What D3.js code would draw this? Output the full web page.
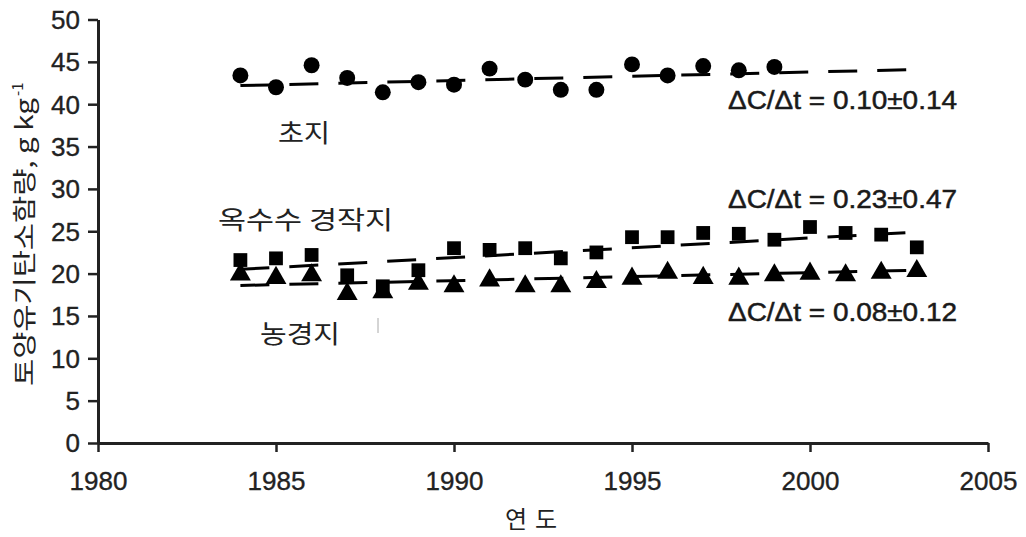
<!DOCTYPE html>
<html><head><meta charset="utf-8">
<script src="https://cdn.jsdelivr.net/npm/d3@7"></script>
<style>
body{margin:0;background:#fff}
svg{display:block}
.tick text{font-family:"Liberation Sans",Arial,sans-serif;font-size:26px;fill:#222;stroke:#222;stroke-width:0.35px}
.kr{font-family:"Noto Sans CJK KR",sans-serif;fill:#222}
.ann{font-family:"Liberation Sans",Arial,sans-serif;font-size:25px;fill:#1a1a1a;stroke:#1a1a1a;stroke-width:0.5px}
</style></head>
<body>
<svg id="c" width="1026" height="537"></svg>
<script>
// ---- data ----
const yearsAll = [1984,1985,1986,1987,1988,1989,1990,1991,1992,1993,1994,1995,1996,1997,1998,1999,2000,2001,2002,2003];
const grassYears = [1984,1985,1986,1987,1988,1989,1990,1991,1992,1993,1994,1995,1996,1997,1998,1999];
const grassValues = [43.4,42.0,44.6,43.1,41.4,42.6,42.3,44.2,42.9,41.7,41.7,44.7,43.4,44.5,44.0,44.4];
const cornValues  = [21.6,21.8,22.2,19.8,18.5,20.4,23.0,22.8,23.0,21.8,22.5,24.3,24.3,24.8,24.7,24.0,25.5,24.8,24.6,23.1];
const cropValues  = [19.9,19.5,19.8,17.6,17.8,18.8,18.5,19.2,18.5,18.5,19.0,19.4,20.1,19.5,19.4,19.8,20.0,19.8,20.1,20.3];
// regression lines: [startYear, startValue, endYear, endValue]
const grassFit = [1984,42.2,2003,44.1];
const cornFit  = [1984,20.5,2003,24.9];
const cropFit  = [1984,18.6,2003,20.4];
const xTicks = [1980,1985,1990,1995,2000,2005];
const yTicks = [0,5,10,15,20,25,30,35,40,45,50];
const slopeLabels = ["ΔC/Δt = 0.10±0.14","ΔC/Δt = 0.23±0.47","ΔC/Δt = 0.08±0.12"];
const seriesLabels = ["초지","옥수수 경작지","농경지"];
const xTitle = "연도";
const yTitle = "토양유기탄소함량, g kg";

// ---- scales ----
const svg = d3.select("#c");
const x = d3.scaleLinear().domain([1980,2005]).range([98,988]);
const y = d3.scaleLinear().domain([0,50]).range([443,19.5]);

// axes
const xa = svg.append("g").attr("transform","translate(0,443)")
  .call(d3.axisBottom(x).tickValues(xTicks).tickFormat(d3.format("d")).tickSize(9).tickSizeOuter(0).tickPadding(20));
xa.selectAll("text").attr("dy","0.71em");
const ya = svg.append("g").attr("transform","translate(98,0)")
  .call(d3.axisLeft(y).tickValues(yTicks).tickSize(10).tickSizeOuter(0).tickPadding(8));
ya.selectAll("text").attr("dy","0.34em");
svg.selectAll(".domain").attr("stroke","#222").attr("stroke-width",3);
svg.selectAll(".tick line").attr("stroke","#222").attr("stroke-width",2.5);
svg.selectAll(".tick text").attr("fill","#222");

// fit lines
const fits = [grassFit,cornFit,cropFit];
svg.selectAll("line.fit").data(fits).enter().append("line").attr("class","fit")
  .attr("x1",d=>x(d[0])).attr("y1",d=>y(d[1])).attr("x2",d=>x(d[2])).attr("y2",d=>y(d[3]))
  .attr("stroke","#000").attr("stroke-width",3).attr("stroke-dasharray","29,20");

// markers
const sym = (type,size)=>d3.symbol().type(type).size(size)();
svg.append("g").selectAll("path").data(grassYears.map((yr,i)=>[yr,grassValues[i]])).enter()
  .append("path").attr("d",sym(d3.symbolCircle,200))
  .attr("transform",d=>`translate(${x(d[0])},${y(d[1])})`).attr("fill","#000");
svg.append("g").selectAll("path").data(yearsAll.map((yr,i)=>[yr,cornValues[i]])).enter()
  .append("path").attr("d",sym(d3.symbolSquare,190))
  .attr("transform",d=>`translate(${x(d[0])},${y(d[1])})`).attr("fill","#000");
svg.append("g").selectAll("path").data(yearsAll.map((yr,i)=>[yr,cropValues[i]])).enter()
  .append("path").attr("d",sym(d3.symbolTriangle,190))
  .attr("transform",d=>`translate(${x(d[0])},${y(d[1])})`).attr("fill","#000");

// slope annotations
const annPos = [[728,109],[728,208],[728,321]];
slopeLabels.forEach((t,i)=>{
  svg.append("text").attr("class","ann").attr("x",annPos[i][0]).attr("y",annPos[i][1])
    .attr("textLength",229).attr("lengthAdjust","spacingAndGlyphs").text(t);
});

// series labels
const labPos = [[278,142,52],[218,229,175],[260,343,80]];
seriesLabels.forEach((t,i)=>{
  svg.append("text").attr("class","kr").attr("font-size",25).attr("x",labPos[i][0]).attr("y",labPos[i][1])
    .attr("textLength",labPos[i][2]).attr("lengthAdjust","spacingAndGlyphs").text(t);
});

// stray mark
svg.append("line").attr("x1",378).attr("x2",378).attr("y1",318).attr("y2",333).attr("stroke","#aaa").attr("stroke-width",1);

// axis titles
svg.append("text").attr("class","kr").attr("font-size",24).attr("x",505).attr("y",528)
  .attr("textLength",52).attr("lengthAdjust","spacing").text(xTitle);
svg.append("text").attr("class","kr").attr("font-size",24)
  .attr("transform","translate(33,386) rotate(-90)").attr("x",0).attr("y",0)
  .attr("textLength",288).attr("lengthAdjust","spacingAndGlyphs").text(yTitle);
svg.append("text").attr("class","kr").attr("font-size",15)
  .attr("transform","translate(33,386) rotate(-90)").attr("x",290).attr("y",-10).text("-1");
</script>
</body></html>
